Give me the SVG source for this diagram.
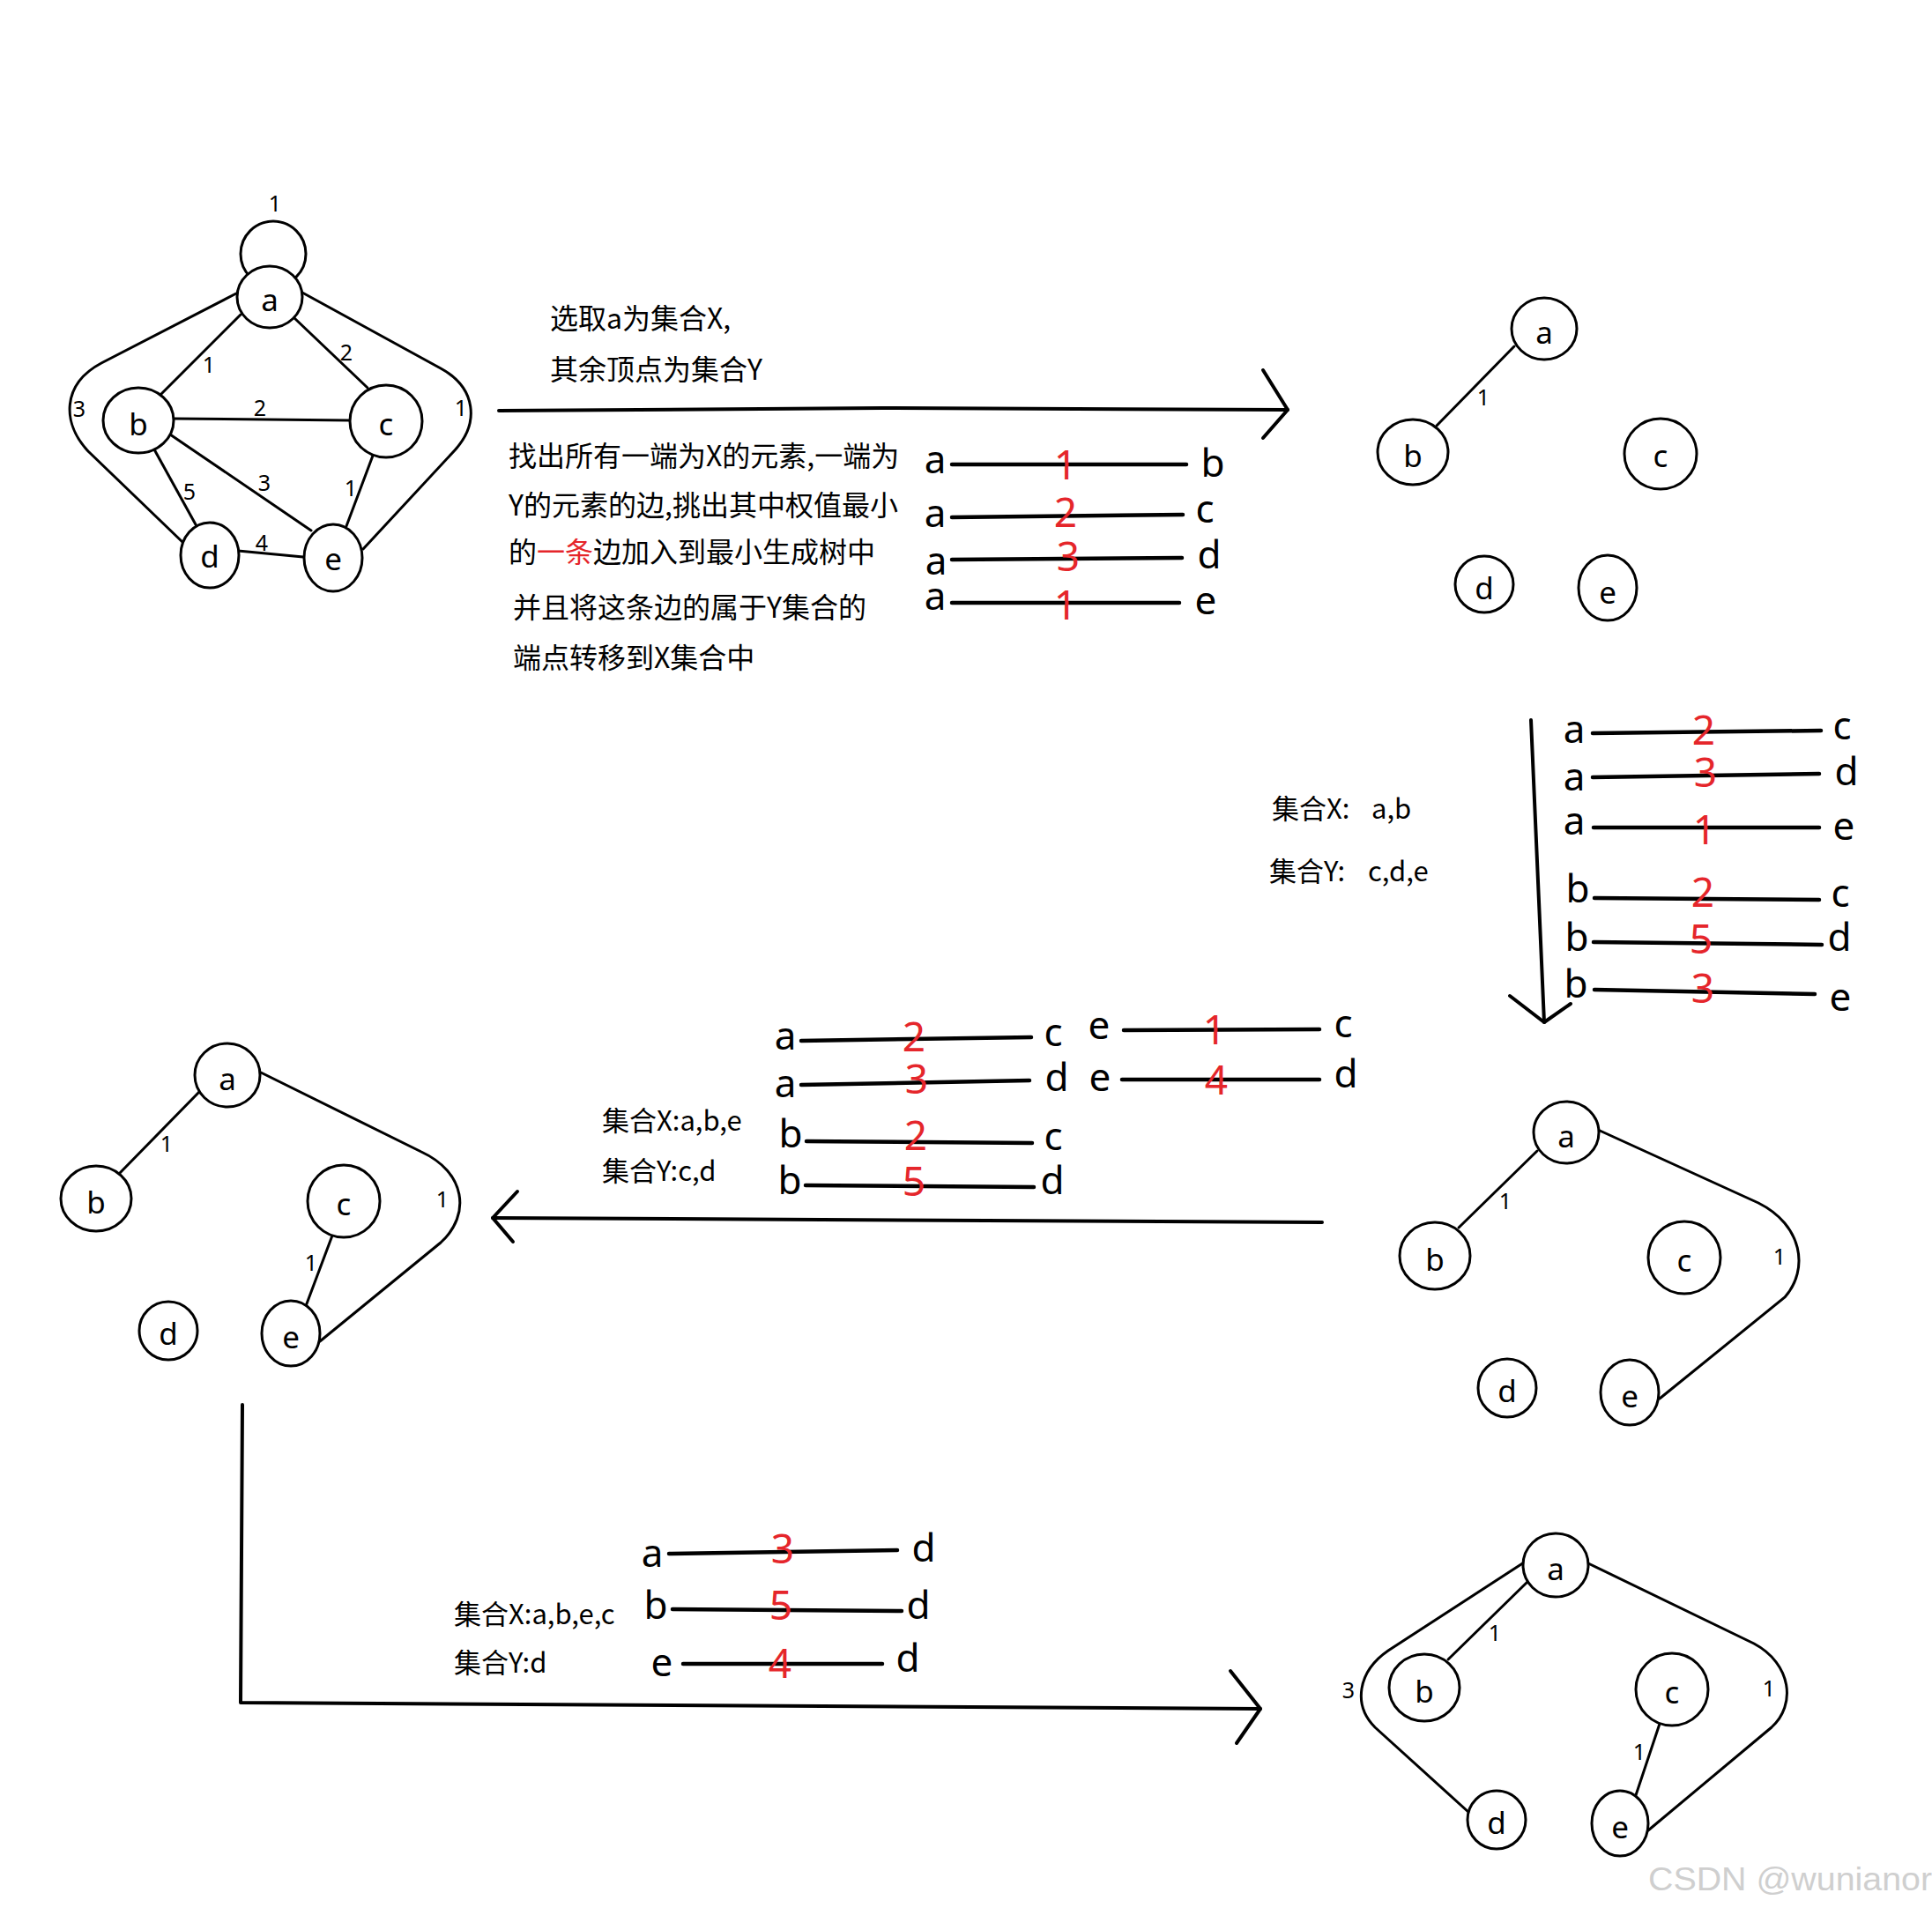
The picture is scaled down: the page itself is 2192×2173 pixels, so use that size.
<svg xmlns="http://www.w3.org/2000/svg" width="2192" height="2173" viewBox="0 0 2192 2173">
<style>
.bg{fill:#fff}
.nd ellipse{fill:#fff;stroke:#000;stroke-width:3}
.nl{font-family:"Noto Sans","Open Sans",sans-serif;font-size:35px;text-anchor:middle;fill:#000}
.el{font-family:"Noto Sans","Open Sans",sans-serif;font-size:25px;text-anchor:middle;fill:#000}
.ed{stroke:#000;stroke-width:3;fill:none;stroke-linecap:round}
.ar{stroke:#000;stroke-width:4;fill:none;stroke-linecap:round;stroke-linejoin:round}
.ll{stroke:#000;stroke-width:4.5;stroke-linecap:round}
.lt{font-family:"Noto Sans","Open Sans",sans-serif;font-size:44px;text-anchor:middle;fill:#000}
.rd{font-family:"Noto Sans","Open Sans",sans-serif;font-size:46px;text-anchor:middle;fill:#e5262b}
.cn{font-family:"Noto Sans CJK SC","Noto Sans",sans-serif;font-size:32px;fill:#000}
.cs{font-family:"Noto Sans CJK SC","Noto Sans",sans-serif;font-size:31px;fill:#000}
.red{fill:#e5262b}
.wm{font-family:"Liberation Sans",Arial,sans-serif;font-size:37px;fill:#cfcfcf}
</style>
<rect class="bg" x="0" y="0" width="2192" height="2173"/>

<g id="connectors">
  <g id="g1-edges">
    <circle class="ed" cx="310" cy="288" r="37"/>
    <line class="ed" x1="273" y1="357" x2="183" y2="447"/>
    <line class="ed" x1="333" y1="360" x2="417" y2="440"/>
    <line class="ed" x1="197" y1="475" x2="397" y2="477"/>
    <line class="ed" x1="193" y1="493" x2="353" y2="602"/>
    <line class="ed" x1="175" y1="510" x2="223" y2="597"/>
    <line class="ed" x1="423" y1="517" x2="393" y2="597"/>
    <line class="ed" x1="270" y1="625" x2="344" y2="632"/>
    <path class="ed" d="M268,333 L115,412 C70,436 70,480 100,512 L207,615"/>
    <path class="ed" d="M343,332 L500,418 C540,440 545,480 515,512 L412,623"/>
  </g>
  <g id="g2-edges">
    <line class="ed" x1="1718" y1="393" x2="1630" y2="483"/>
  </g>
  <g id="g3-edges">
    <line class="ed" x1="1744" y1="1306" x2="1655" y2="1393"/>
    <path class="ed" d="M1813,1282 L1995,1365 C2045,1390 2053,1440 2025,1472 L1883,1587"/>
  </g>
  <g id="g4-edges">
    <line class="ed" x1="226" y1="1239" x2="136" y2="1331"/>
    <line class="ed" x1="377" y1="1402" x2="347" y2="1482"/>
    <path class="ed" d="M296,1217 L478,1307 C528,1330 535,1378 500,1410 L363,1522"/>
  </g>
  <g id="g5-edges">
    <line class="ed" x1="1733" y1="1795" x2="1643" y2="1883"/>
    <line class="ed" x1="1884" y1="1953" x2="1855" y2="2040"/>
    <path class="ed" d="M1729,1773 L1575,1873 C1540,1897 1535,1935 1560,1960 L1667,2057"/>
    <path class="ed" d="M1800,1773 L1990,1865 C2033,1888 2038,1935 2010,1960 L1870,2077"/>
  </g>
  <g id="flow-arrows">
    <path class="ar" d="M566,466 L1000,463 L1461,465"/>
    <path class="ar" d="M1433,420 L1461,465 L1433,497"/>
    <path class="ar" d="M1737,817 L1752,1160"/>
    <path class="ar" d="M1713,1130 L1752,1160 L1782,1139"/>
    <path class="ar" d="M1500,1387 L559,1382"/>
    <path class="ar" d="M587,1352 L559,1382 L582,1409"/>
    <path class="ar" d="M275,1594 L273,1932 L1430,1939"/>
    <path class="ar" d="M1396,1896 L1430,1939 L1403,1978"/>
  </g>
</g>

<g id="graph1-labels">
  <text class="el" x="312" y="240">1</text>
  <text class="el" x="237" y="423">1</text>
  <text class="el" x="393" y="409">2</text>
  <text class="el" x="295" y="472">2</text>
  <text class="el" x="90" y="473">3</text>
  <text class="el" x="523" y="472">1</text>
  <text class="el" x="215" y="567">5</text>
  <text class="el" x="300" y="557">3</text>
  <text class="el" x="398" y="563">1</text>
  <text class="el" x="297" y="625">4</text>
</g>
<g id="g1-a" class="nd"><ellipse cx="306" cy="337" rx="37" ry="35"/><text class="nl" x="306" y="353">a</text></g>
<g id="g1-b" class="nd"><ellipse cx="157" cy="477" rx="40" ry="37"/><text class="nl" x="157" y="494">b</text></g>
<g id="g1-c" class="nd"><ellipse cx="438" cy="478" rx="41" ry="41"/><text class="nl" x="438" y="494">c</text></g>
<g id="g1-d" class="nd"><ellipse cx="238" cy="630" rx="33" ry="37"/><text class="nl" x="238" y="644">d</text></g>
<g id="g1-e" class="nd"><ellipse cx="378" cy="633" rx="33" ry="38"/><text class="nl" x="378" y="647">e</text></g>

<g id="graph2-labels"><text class="el" x="1683" y="460">1</text></g>
<g id="g2-a" class="nd"><ellipse cx="1752" cy="373" rx="37" ry="35"/><text class="nl" x="1752" y="390">a</text></g>
<g id="g2-b" class="nd"><ellipse cx="1603" cy="513" rx="40" ry="37"/><text class="nl" x="1603" y="530">b</text></g>
<g id="g2-c" class="nd"><ellipse cx="1884" cy="515" rx="41" ry="40"/><text class="nl" x="1884" y="530">c</text></g>
<g id="g2-d" class="nd"><ellipse cx="1684" cy="663" rx="33" ry="32"/><text class="nl" x="1684" y="680">d</text></g>
<g id="g2-e" class="nd"><ellipse cx="1824" cy="667" rx="33" ry="37"/><text class="nl" x="1824" y="685">e</text></g>

<g id="graph3-labels"><text class="el" x="1708" y="1372">1</text><text class="el" x="2019" y="1435">1</text></g>
<g id="g3-a" class="nd"><ellipse cx="1777" cy="1285" rx="37" ry="35"/><text class="nl" x="1777" y="1302">a</text></g>
<g id="g3-b" class="nd"><ellipse cx="1628" cy="1425" rx="40" ry="38"/><text class="nl" x="1628" y="1442">b</text></g>
<g id="g3-c" class="nd"><ellipse cx="1911" cy="1427" rx="41" ry="41"/><text class="nl" x="1911" y="1443">c</text></g>
<g id="g3-d" class="nd"><ellipse cx="1710" cy="1575" rx="33" ry="33"/><text class="nl" x="1710" y="1591">d</text></g>
<g id="g3-e" class="nd"><ellipse cx="1849" cy="1580" rx="33" ry="37"/><text class="nl" x="1849" y="1597">e</text></g>

<g id="graph4-labels"><text class="el" x="189" y="1307">1</text><text class="el" x="353" y="1442">1</text><text class="el" x="502" y="1370">1</text></g>
<g id="g4-a" class="nd"><ellipse cx="258" cy="1220" rx="37" ry="36"/><text class="nl" x="258" y="1237">a</text></g>
<g id="g4-b" class="nd"><ellipse cx="109" cy="1360" rx="40" ry="37"/><text class="nl" x="109" y="1377">b</text></g>
<g id="g4-c" class="nd"><ellipse cx="390" cy="1363" rx="41" ry="41"/><text class="nl" x="390" y="1379">c</text></g>
<g id="g4-d" class="nd"><ellipse cx="191" cy="1510" rx="33" ry="33"/><text class="nl" x="191" y="1526">d</text></g>
<g id="g4-e" class="nd"><ellipse cx="330" cy="1513" rx="33" ry="37"/><text class="nl" x="330" y="1530">e</text></g>

<g id="graph5-labels"><text class="el" x="1696" y="1862">1</text><text class="el" x="1860" y="1997">1</text><text class="el" x="1530" y="1927">3</text><text class="el" x="2007" y="1925">1</text></g>
<g id="g5-a" class="nd"><ellipse cx="1765" cy="1776" rx="37" ry="36"/><text class="nl" x="1765" y="1793">a</text></g>
<g id="g5-b" class="nd"><ellipse cx="1616" cy="1915" rx="40" ry="38"/><text class="nl" x="1616" y="1932">b</text></g>
<g id="g5-c" class="nd"><ellipse cx="1897" cy="1917" rx="41" ry="41"/><text class="nl" x="1897" y="1933">c</text></g>
<g id="g5-d" class="nd"><ellipse cx="1698" cy="2065" rx="33" ry="33"/><text class="nl" x="1698" y="2081">d</text></g>
<g id="g5-e" class="nd"><ellipse cx="1838" cy="2069" rx="32" ry="37"/><text class="nl" x="1838" y="2086">e</text></g>

<g id="text-step1">
  <text class="cn" x="624" y="373">选取a为集合X,</text>
  <text class="cn" x="624" y="431">其余顶点为集合Y</text>
  <text class="cn" x="577" y="529">找出所有一端为X的元素,一端为</text>
  <text class="cn" x="577" y="585">Y的元素的边,挑出其中权值最小</text>
  <text class="cn" x="577" y="638">的<tspan class="red">一条</tspan>边加入到最小生成树中</text>
  <text class="cn" x="582" y="701">并且将这条边的属于Y集合的</text>
  <text class="cn" x="582" y="758">端点转移到X集合中</text>
</g>

<g id="list1">
  <line class="ll" x1="1080" y1="527" x2="1346" y2="527"/>
  <line class="ll" x1="1080" y1="587" x2="1342" y2="584"/>
  <line class="ll" x1="1080" y1="635" x2="1341" y2="633"/>
  <line class="ll" x1="1080" y1="684" x2="1338" y2="684"/>
  <text class="lt" x="1061" y="537">a</text><text class="rd" x="1209" y="544">1</text><text class="lt" x="1376" y="541">b</text>
  <text class="lt" x="1061" y="598">a</text><text class="rd" x="1209" y="598">2</text><text class="lt" x="1367" y="593">c</text>
  <text class="lt" x="1062" y="652">a</text><text class="rd" x="1212" y="648">3</text><text class="lt" x="1372" y="645">d</text>
  <text class="lt" x="1061" y="692">a</text><text class="rd" x="1209" y="703">1</text><text class="lt" x="1368" y="697">e</text>
</g>

<g id="sets2">
  <text class="cs" x="1443" y="929">集合X:<tspan x="1556">a,b</tspan></text>
  <text class="cs" x="1440" y="1000">集合Y:<tspan x="1552">c,d,e</tspan></text>
</g>

<g id="list2">
  <line class="ll" x1="1807" y1="832" x2="2066" y2="829"/>
  <line class="ll" x1="1807" y1="882" x2="2064" y2="878"/>
  <line class="ll" x1="1808" y1="939" x2="2064" y2="939"/>
  <line class="ll" x1="1809" y1="1019" x2="2064" y2="1021"/>
  <line class="ll" x1="1808" y1="1069" x2="2067" y2="1072"/>
  <line class="ll" x1="1809" y1="1123" x2="2059" y2="1128"/>
  <text class="lt" x="1786" y="843">a</text><text class="rd" x="1933" y="845">2</text><text class="lt" x="2090" y="839">c</text>
  <text class="lt" x="1786" y="897">a</text><text class="rd" x="1935" y="893">3</text><text class="lt" x="2095" y="891">d</text>
  <text class="lt" x="1786" y="947">a</text><text class="rd" x="1934" y="958">1</text><text class="lt" x="2092" y="953">e</text>
  <text class="lt" x="1790" y="1024">b</text><text class="rd" x="1932" y="1029">2</text><text class="lt" x="2088" y="1029">c</text>
  <text class="lt" x="1789" y="1079">b</text><text class="rd" x="1930" y="1082">5</text><text class="lt" x="2087" y="1079">d</text>
  <text class="lt" x="1788" y="1132">b</text><text class="rd" x="1932" y="1138">3</text><text class="lt" x="2088" y="1147">e</text>
</g>

<g id="sets3">
  <text class="cs" x="683" y="1283">集合X:a,b,e</text>
  <text class="cs" x="683" y="1340">集合Y:c,d</text>
</g>

<g id="list3">
  <line class="ll" x1="909" y1="1181" x2="1170" y2="1177"/>
  <line class="ll" x1="909" y1="1231" x2="1168" y2="1226"/>
  <line class="ll" x1="1275" y1="1169" x2="1497" y2="1168"/>
  <line class="ll" x1="1273" y1="1225" x2="1497" y2="1225"/>
  <line class="ll" x1="915" y1="1295" x2="1171" y2="1297"/>
  <line class="ll" x1="914" y1="1345" x2="1173" y2="1347"/>
  <text class="lt" x="891" y="1191">a</text><text class="rd" x="1037" y="1193">2</text><text class="lt" x="1195" y="1187">c</text>
  <text class="lt" x="891" y="1245">a</text><text class="rd" x="1040" y="1241">3</text><text class="lt" x="1199" y="1238">d</text>
  <text class="lt" x="1247" y="1179">e</text><text class="rd" x="1378" y="1185">1</text><text class="lt" x="1524" y="1177">c</text>
  <text class="lt" x="1248" y="1238">e</text><text class="rd" x="1380" y="1242">4</text><text class="lt" x="1527" y="1234">d</text>
  <text class="lt" x="897" y="1302">b</text><text class="rd" x="1039" y="1305">2</text><text class="lt" x="1195" y="1305">c</text>
  <text class="lt" x="896" y="1355">b</text><text class="rd" x="1037" y="1357">5</text><text class="lt" x="1194" y="1355">d</text>
</g>

<g id="sets4">
  <text class="cs" x="515" y="1843">集合X:a,b,e,c</text>
  <text class="cs" x="515" y="1898">集合Y:d</text>
</g>

<g id="list4">
  <line class="ll" x1="759" y1="1763" x2="1018" y2="1759"/>
  <line class="ll" x1="763" y1="1826" x2="1023" y2="1828"/>
  <line class="ll" x1="775" y1="1888" x2="1001" y2="1888"/>
  <text class="lt" x="740" y="1778">a</text><text class="rd" x="888" y="1774">3</text><text class="lt" x="1048" y="1772">d</text>
  <text class="lt" x="744" y="1837">b</text><text class="rd" x="886" y="1838">5</text><text class="lt" x="1042" y="1837">d</text>
  <text class="lt" x="751" y="1902">e</text><text class="rd" x="885" y="1904">4</text><text class="lt" x="1030" y="1897">d</text>
</g>

<text class="wm" x="1870" y="2145" textLength="322" lengthAdjust="spacingAndGlyphs">CSDN @wunianor</text>
</svg>
